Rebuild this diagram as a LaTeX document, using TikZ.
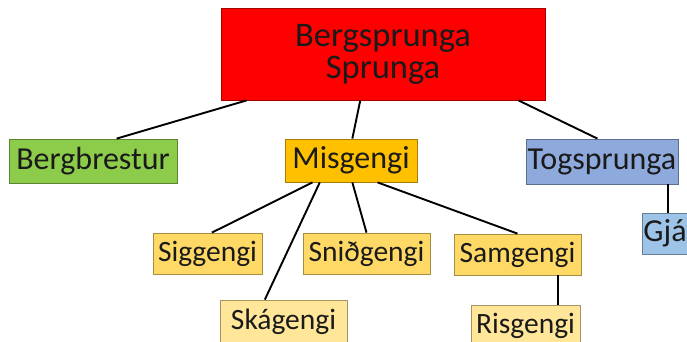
\documentclass[tikz,border=0pt]{standalone}
\usepackage{fontspec}
\setmainfont{Carlito}
\usetikzlibrary{calc}
\definecolor{cred}{HTML}{FF0000}
\definecolor{cgreen}{HTML}{8DCB4B}
\definecolor{corange}{HTML}{FFC000}
\definecolor{cblue}{HTML}{8EA9DB}
\definecolor{clblue}{HTML}{9DC3E6}
\definecolor{cyel}{HTML}{FFD966}
\definecolor{clyel}{HTML}{FFE699}
\definecolor{ctext}{HTML}{1A1A1A}
\tikzset{
  box/.style={draw=#1!65!black, fill=#1, line width=0.8pt, inner sep=0pt, text=ctext, align=center},
  lvtwo/.style={font=\fontsize{32}{35}\selectfont},
  lvthree/.style={font=\fontsize{29.5}{32}\selectfont},
  conn/.style={draw=black, line width=1.9pt}
}
\begin{document}
\begin{tikzpicture}[x=1pt,y=-1pt]
\useasboundingbox (0,0) rectangle (687,341);
\node[box=cred, minimum width=324pt, minimum height=92pt, font=\fontsize{34.5}{32}\selectfont] (top) at (383,54) {Bergsprunga\\Sprunga};
\node[box=cgreen, lvtwo, minimum width=168pt, minimum height=44pt] (bergb) at (93,161) {Bergbrestur};
\node[box=corange, lvtwo, minimum width=132pt, minimum height=43pt] (misg) at (351,160.5) {Misgengi};
\node[box=cblue, lvtwo, minimum width=152pt, minimum height=45pt] (togs) at (602,161.5) {Togsprunga};
\node[box=clblue, lvtwo, minimum width=46pt, minimum height=41pt] (gja) at (665,233.5) {Gjá};
\node[box=cyel, lvthree, minimum width=109pt, minimum height=41pt] (sigg) at (207.5,253.5) {Siggengi};
\node[box=cyel, lvthree, minimum width=127pt, minimum height=41pt] (snid) at (366.5,253.5) {Sniðgengi};
\node[box=clyel, lvthree, minimum width=127pt, minimum height=44pt] (skag) at (283.5,322) {Skágengi};
\node[box=cyel, lvthree, minimum width=127pt, minimum height=41pt] (samg) at (517.5,254.5) {Samgengi};
\node[box=clyel, lvthree, minimum width=109pt, minimum height=41pt] (risg) at (525.5,325.5) {Risgengi};
\draw[conn] ($(top.south west)!0.08!(top.south east)$) -- ($(bergb.north west)!0.64!(bergb.north east)$);
\draw[conn] ($(top.south west)!0.43!(top.south east)$) -- ($(misg.north west)!0.51!(misg.north east)$);
\draw[conn] ($(top.south west)!0.917!(top.south east)$) -- ($(togs.north west)!0.47!(togs.north east)$);
\draw[conn] ($(gja.north west)!0.56!(gja.north east)$) coordinate (gt) -- (gt |- togs.south);
\draw[conn] ($(misg.south west)!0.21!(misg.south east)$) -- ($(sigg.north west)!0.54!(sigg.north east)$);
\draw[conn] ($(misg.south west)!0.265!(misg.south east)$) -- ($(skag.north west)!0.354!(skag.north east)$);
\draw[conn] ($(misg.south west)!0.51!(misg.south east)$) -- ($(snid.north west)!0.5!(snid.north east)$);
\draw[conn] ($(misg.south west)!0.70!(misg.south east)$) -- ($(samg.north west)!0.5!(samg.north east)$);
\coordinate (sr) at ($(samg.south west)!0.82!(samg.south east)$);
\draw[conn] (sr) -- (sr |- risg.north);
\end{tikzpicture}
\end{document}
